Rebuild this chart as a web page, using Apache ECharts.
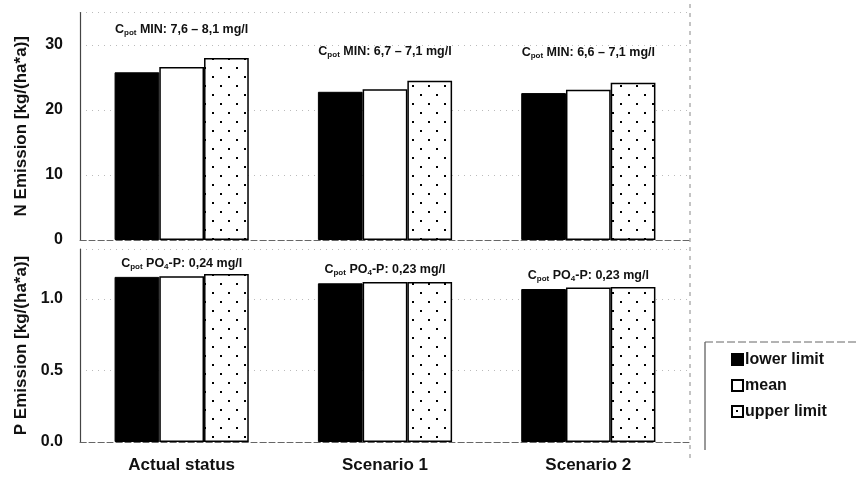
<!DOCTYPE html>
<html><head><meta charset="utf-8">
<script src="https://cdn.jsdelivr.net/npm/echarts@6/dist/echarts.min.js"></script>
<style>html,body{margin:0;padding:0;background:#fff}#c{width:858px;height:479px}</style>
</head><body><div id="c"></div>
<script>
const categories = ['Actual status', 'Scenario 1', 'Scenario 2'];
const seriesNames = ['lower limit', 'mean', 'upper limit'];
const nLower = [25.8, 22.8, 22.6];
const nMean  = [26.6, 23.2, 23.1];
const nUpper = [28.0, 24.5, 24.2];
const pLower = [1.155, 1.11, 1.07];
const pMean  = [1.16, 1.12, 1.08];
const pUpper = [1.175, 1.12, 1.085];
const nAnnot = ['7,6 – 8,1', '6,7 – 7,1', '6,6 – 7,1'];
const pAnnot = ['0,24', '0,23', '0,23'];
const nAxisTitle = 'N Emission [kg/(ha*a)]';
const pAxisTitle = 'P Emission [kg/(ha*a)]';

const FF = '"Liberation Sans", Arial, sans-serif';
const INK = '#111';

// dotted pattern for "upper limit"
const tile = document.createElement('canvas');
tile.width = 16; tile.height = 18;
const tctx = tile.getContext('2d');
tctx.fillStyle = '#fff'; tctx.fillRect(0, 0, 16, 18);
tctx.fillStyle = '#000';
tctx.fillRect(4, 4, 2, 2);
tctx.fillRect(12, 13, 2, 2);
const dotPattern = { image: tile, repeat: 'repeat' };

const rich = {
  c: { fontSize: 12.5, fontWeight: 'bold', color: INK, fontFamily: FF, lineHeight: 15 },
  s: { fontSize: 8, fontWeight: 'bold', color: INK, fontFamily: FF, lineHeight: 8, verticalAlign: 'bottom' }
};

const chart = echarts.init(document.getElementById('c'), null, { renderer: 'canvas' });

const grids = [
  { left: 80, right: 168, top: 12.5, height: 227.5 },
  { left: 80, right: 168, top: 249, height: 193 }
];

function xAxisCfg(gi, showLabels) {
  return {
    type: 'category', gridIndex: gi, data: categories,
    axisTick: { show: false },
    axisLine: { show: true, lineStyle: { color: '#666', type: [6, 3], width: 1 } },
    axisLabel: { show: showLabels, color: INK, fontFamily: FF, fontWeight: 'bold', fontSize: 17, margin: 15 }
  };
}
function yAxisCfg(gi, max, name, fmt, nameGap) {
  return {
    type: 'value', gridIndex: gi, min: 0, max: max, interval: gi === 0 ? 10 : 0.5,
    name: name, nameLocation: 'middle', nameGap: nameGap,
    nameTextStyle: { color: INK, fontFamily: FF, fontWeight: 'bold', fontSize: 17 },
    axisLine: { show: true, lineStyle: { color: '#444', width: 1.2 } },
    axisTick: { show: false },
    axisLabel: { color: INK, fontFamily: FF, fontWeight: 'bold', fontSize: 16, margin: 17, formatter: fmt,
      showMaxLabel: false },
    splitLine: { show: true, lineStyle: { color: '#bbb', type: [1, 5], width: 1 } }
  };
}

function barSeries(name, gi, data, style, annot) {
  const s = {
    name: name, type: 'bar', xAxisIndex: gi, yAxisIndex: gi, data: data,
    barGap: '0%', barCategoryGap: '34%',
    itemStyle: style
  };
  if (annot) {
    s.label = {
      show: true, position: 'top', distance: gi === 0 ? 30 : 5, rich: rich,
      formatter: function (p) {
        return gi === 0
          ? '{c|C}{s|pot}{c| MIN: ' + annot[p.dataIndex] + ' mg/l}'
          : '{c|C}{s|pot}{c| PO}{s|4}{c|-P: ' + annot[p.dataIndex] + ' mg/l}';
      }
    };
  }
  return s;
}

const stLower = { color: '#000', borderColor: '#000', borderWidth: 1 };
const stMean = { color: '#fff', borderColor: '#000', borderWidth: 1.5 };
const stUpper = { color: dotPattern, borderColor: '#000', borderWidth: 1.5 };

chart.setOption({
  animation: false,
  backgroundColor: '#fff',
  grid: grids,
  xAxis: [xAxisCfg(0, false), xAxisCfg(1, true)],
  yAxis: [
    yAxisCfg(0, 35, nAxisTitle, function (v) { return String(v); }, 50),
    yAxisCfg(1, 1.35, pAxisTitle, function (v) { return v.toFixed(1); }, 50)
  ],
  legend: {
    orient: 'vertical', left: 726, top: 345, itemGap: 7,
    itemWidth: 11, itemHeight: 11, icon: 'rect',
    data: seriesNames,
    textStyle: { color: INK, fontFamily: FF, fontWeight: 'bold', fontSize: 16, lineHeight: 19, padding: [0, 0, 0, -3] }
  },
  graphic: [
    { type: 'line', shape: { x1: 705, y1: 342, x2: 705, y2: 450 }, style: { stroke: '#333', lineWidth: 1 } },
    { type: 'line', shape: { x1: 705, y1: 342, x2: 858, y2: 342 }, style: { stroke: '#666', lineWidth: 1, lineDash: [8, 3] } },
    { type: 'line', shape: { x1: 690, y1: 4, x2: 690, y2: 460 }, style: { stroke: '#888', lineWidth: 1, lineDash: [4, 5] } }
  ],
  series: [
    barSeries(seriesNames[0], 0, nLower, stLower),
    barSeries(seriesNames[1], 0, nMean, stMean, nAnnot),
    barSeries(seriesNames[2], 0, nUpper, stUpper),
    barSeries(seriesNames[0], 1, pLower, stLower),
    barSeries(seriesNames[1], 1, pMean, stMean, pAnnot),
    barSeries(seriesNames[2], 1, pUpper, stUpper)
  ]
});
</script>
</body></html>
